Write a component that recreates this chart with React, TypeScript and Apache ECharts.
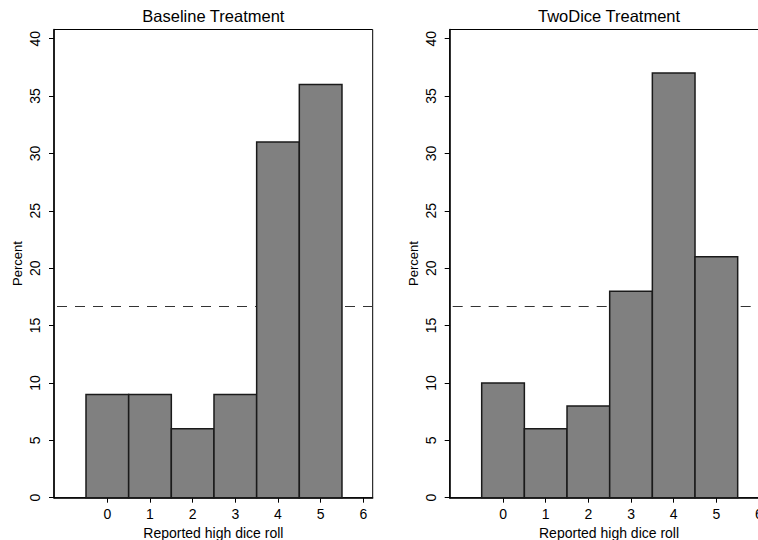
import React, { useEffect, useRef } from "react";
import * as echarts from "echarts";

const diceValues = [0, 1, 2, 3, 4, 5];
const baselinePercent = [9, 9, 6, 9, 31, 36];
const twoDicePercent = [10, 6, 8, 18, 37, 21];
const panelTitles = ["Baseline Treatment", "TwoDice Treatment"];
const xTicks = [0, 1, 2, 3, 4, 5, 6];
const yTicks = [0, 5, 10, 15, 20, 25, 30, 35, 40];
const expectedPercent = 100 / 6;

const FONT = "'Liberation Sans', Arial, Helvetica, sans-serif";

export default function App() {
  const ref = useRef<HTMLDivElement>(null);
  useEffect(() => {
    if (!ref.current) return;
    const chart = echarts.init(ref.current, null, { renderer: "svg" });
    const grids = [
      { left: 54, top: 29.5, width: 318.7, height: 468.2 },
      { left: 449.7, top: 29.5, width: 318.7, height: 468.2 },
    ];
    const mkX = (i: number) => ({
      type: "value",
      gridIndex: i,
      min: -1.25,
      max: 6.22,
      name: "Reported high dice roll",
      nameLocation: "middle",
      nameGap: 24,
      nameTextStyle: { fontFamily: FONT, fontSize: 14, color: "#000" },
      splitLine: { show: false },
      axisLine: { show: true, onZero: false, lineStyle: { color: "#000", width: 1.5 } },
      axisTick: { show: true, length: 5, customValues: xTicks, lineStyle: { color: "#000", width: 1 } },
      axisLabel: { customValues: xTicks, margin: 9, fontFamily: FONT, fontSize: 14, color: "#000" },
    });
    const mkY = (i: number) => ({
      type: "value",
      gridIndex: i,
      min: 0,
      max: 40.8,
      name: "Percent",
      nameLocation: "middle",
      nameRotate: 90,
      nameGap: 30,
      nameTextStyle: { fontFamily: FONT, fontSize: 13, color: "#000" },
      splitLine: { show: false },
      axisLine: { show: true, onZero: false, lineStyle: { color: "#000", width: 1.5 } },
      axisTick: { show: true, length: 5, customValues: yTicks, lineStyle: { color: "#000", width: 1 } },
      axisLabel: { customValues: yTicks, rotate: 90, margin: 12, fontFamily: FONT, fontSize: 14, color: "#000" },
    });
    const barSeries = (i: number, vals: number[]) => ({
      type: "custom",
      xAxisIndex: i,
      yAxisIndex: i,
      z: 10,
      data: diceValues.map((d, k) => [d, vals[k]]),
      renderItem: (params: any, api: any) => {
        const x = api.value(0);
        const y = api.value(1);
        const p0 = api.coord([x - 0.5, y]);
        const p1 = api.coord([x + 0.5, 0]);
        return {
          type: "rect",
          shape: { x: p0[0], y: p0[1], width: p1[0] - p0[0], height: p1[1] - p0[1] },
          style: { fill: "#808080", stroke: "#1a1a1a", lineWidth: 1.5 },
        };
      },
    });
    const lineSeries = (i: number) => ({
      type: "line",
      xAxisIndex: i,
      yAxisIndex: i,
      z: 1,
      data: [],
      markLine: {
        z: 1,
        silent: true,
        symbol: "none",
        label: { show: false },
        lineStyle: { type: [10, 8], dashOffset: -3, color: "#333", width: 1 },
        data: [{ yAxis: expectedPercent }],
      },
    });
    chart.setOption({
      animation: false,
      backgroundColor: "#fff",
      grid: grids.map((g) => ({
        ...g,
        show: true,
        outerBoundsMode: "none",
        containLabel: false,
        borderColor: "#000",
        borderWidth: 1,
        backgroundColor: "transparent",
      })),
      xAxis: [mkX(0), mkX(1)],
      yAxis: [mkY(0), mkY(1)],
      graphic: grids.map((g, i) => ({
        type: "text",
        x: g.left + g.width / 2,
        y: 15.5,
        style: {
          text: panelTitles[i],
          font: `16.5px ${FONT}`,
          fill: "#000",
          textAlign: "center",
          textVerticalAlign: "middle",
        },
      })),
      series: [lineSeries(0), barSeries(0, baselinePercent), lineSeries(1), barSeries(1, twoDicePercent)],
    });
    return () => chart.dispose();
  }, []);
  return <div ref={ref} style={{ width: 758, height: 540, position: "absolute", left: 0, top: 0 }} />;
}
